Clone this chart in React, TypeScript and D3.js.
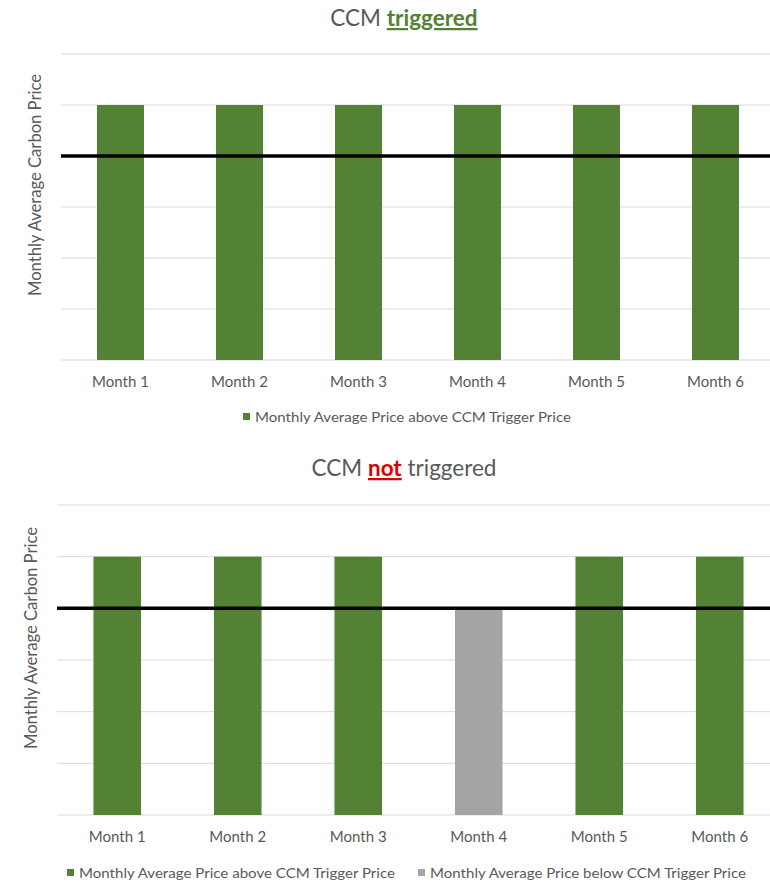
import React from "react";
import * as d3 from "d3";

const months = ["Month 1", "Month 2", "Month 3", "Month 4", "Month 5", "Month 6"];
const triggeredPrices = [5, 5, 5, 5, 5, 5];
const notTriggeredPrices = [5, 5, 5, 4, 5, 5];
const triggerPrice = 4;
const gridTicks = [0, 1, 2, 3, 4, 5, 6];
const aboveLabel = "Monthly Average Price above CCM Trigger Price";
const belowLabel = "Monthly Average Price below CCM Trigger Price";
const yTitle = "Monthly Average Carbon Price";

const GREEN = "#548235";
const GREY = "#a5a5a5";
const TEXT = "#595959";
const FONT = "Lato, 'Open Sans', sans-serif";

type PanelProps = {
  top: number;
  bottom: number;
  left: number;
  right: number;
  values: number[];
  axisX: number;
  monthY: number;
};

function Panel({ top, bottom, left, right, values, axisX, monthY }: PanelProps) {
  const x = d3.scaleBand<string>().domain(months).range([left, right]).paddingInner(0.605).paddingOuter(0.3025);
  const y = d3.scaleLinear().domain([0, 6]).range([bottom, top]);
  const mid = (top + bottom) / 2 - 22;
  return (
    <g>
      {gridTicks.map((t) => (
        <line key={t} x1={left} x2={770} y1={y(t)} y2={y(t)} stroke="#d9d9d9" strokeWidth={1} />
      ))}
      {values.map((v, i) => (
        <rect
          key={months[i]}
          x={x(months[i])}
          width={x.bandwidth()}
          y={y(v)}
          height={y(0) - y(v)}
          fill={v > triggerPrice ? GREEN : GREY}
        />
      ))}
      <line x1={left} x2={770} y1={y(triggerPrice)} y2={y(triggerPrice)} stroke="#000" strokeWidth={3.5} />
      {months.map((m) => (
        <text key={m} x={(x(m) as number) + x.bandwidth() / 2} y={monthY} textAnchor="middle" fontSize={15} fill={TEXT} fontFamily={FONT}>
          {m}
        </text>
      ))}
      <text
        transform={`translate(${axisX},${mid}) rotate(-90)`}
        textAnchor="middle"
        fontSize={16.5}
        fill={TEXT}
        fontFamily={FONT}
        textLength={222}
        lengthAdjust="spacingAndGlyphs"
      >
        {yTitle}
      </text>
    </g>
  );
}

function LegendItem({ x, y, color, label }: { x: number; y: number; color: string; label: string }) {
  return (
    <g>
      <rect x={x} y={y - 4} width={7} height={7} fill={color} />
      <text x={x + 12} y={y + 4.5} fontSize={14} fill={TEXT} fontFamily={FONT} textLength={316} lengthAdjust="spacingAndGlyphs">
        {label}
      </text>
    </g>
  );
}

export default function App() {
  return (
    <svg width={770} height={882} style={{ position: "absolute", left: 0, top: 0, background: "#fff" }}>
      <rect width={770} height={882} fill="#fff" />
      {/* upper panel: mechanism triggered */}
      <text x={404} y={26} textAnchor="middle" fontSize={22.5} fill={TEXT} fontFamily={FONT}>
        CCM{" "}
        <tspan fill={GREEN} fontWeight="bold" textDecoration="underline">
          triggered
        </tspan>
      </text>
      <Panel top={54} bottom={360} left={61} right={775} values={triggeredPrices} axisX={41} monthY={387} />
      <LegendItem x={243} y={417} color={GREEN} label={aboveLabel} />

      {/* lower panel: mechanism not triggered */}
      <text x={404} y={476} textAnchor="middle" fontSize={22.5} fill={TEXT} fontFamily={FONT}>
        CCM{" "}
        <tspan fill="#e00000" fontWeight="bold" textDecoration="underline">
          not
        </tspan>{" "}
        triggered
      </text>
      <Panel top={505} bottom={815} left={57} right={780} values={notTriggeredPrices} axisX={37} monthY={842} />
      <LegendItem x={67} y={873} color={GREEN} label={aboveLabel} />
      <LegendItem x={418} y={873} color={GREY} label={belowLabel} />
    </svg>
  );
}
